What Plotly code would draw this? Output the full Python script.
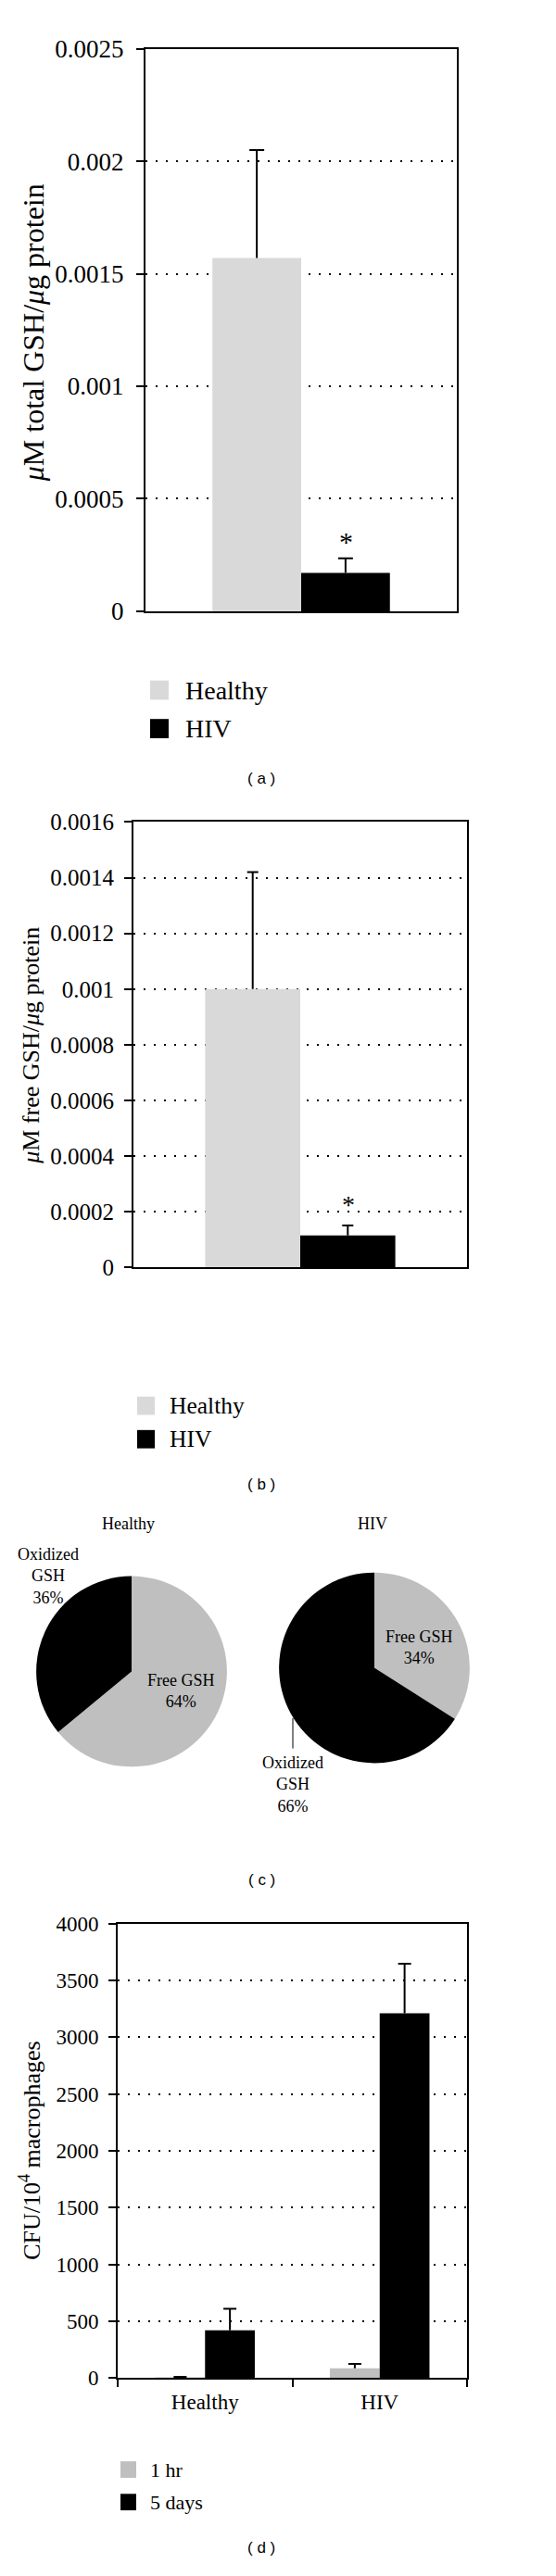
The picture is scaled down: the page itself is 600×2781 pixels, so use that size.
import plotly.graph_objects as go

W, H = 600, 2781

# ---------------- data ----------------
groups = ["Healthy", "HIV"]
group_colors = ["#d9d9d9", "#000000"]

# (a) total GSH
total_gsh = [0.00157, 0.000171]
total_gsh_err = [0.00048, 0.000064]
a_tickvals = [0, 0.0005, 0.001, 0.0015, 0.002, 0.0025]
a_ticktext = ["0", "0.0005", "0.001", "0.0015", "0.002", "0.0025"]

# (b) free GSH
free_gsh = [0.00100, 0.000115]
free_gsh_err = [0.00042, 0.000036]
b_tickvals = [0, 0.0002, 0.0004, 0.0006, 0.0008, 0.001, 0.0012, 0.0014, 0.0016]
b_ticktext = ["0", "0.0002", "0.0004", "0.0006", "0.0008", "0.001", "0.0012", "0.0014", "0.0016"]

# (c) GSH composition (%)
pie_labels = ["Free GSH", "Oxidized GSH"]
pie_label_lines = ["Free GSH", "Oxidized<br>GSH"]
pie_colors = ["#bfbfbf", "#000000"]
healthy_pct = [64, 36]
hiv_pct = [34, 66]

# (d) CFU per 10^4 macrophages
time_points = ["1 hr", "5 days"]
time_colors = ["#bfbfbf", "#000000"]
cfu_1hr = [3, 85]
cfu_1hr_err = [6, 38]
cfu_5d = [420, 3210]
cfu_5d_err = [188, 435]
d_tickvals = [0, 500, 1000, 1500, 2000, 2500, 3000, 3500, 4000]

SERIF = "Liberation Serif, Times New Roman, serif"
SANS = "Liberation Sans, Arial, sans-serif"


def px(x):
    return x / W


def py(y):
    return 1 - y / H


fig = go.Figure()


def bar_with_whisker(x, y, err, name, color, xa, ya, cap):
    """Bar with an upward-only error whisker (stem + top cap, no cap at the bar top)."""
    fig.add_trace(go.Bar(
        x=x, y=y, name=name, offsetgroup=name,
        marker=dict(color=color, line=dict(width=0)),
        error_y=dict(type="data", array=err, arrayminus=[0] * len(err), symmetric=False,
                     color="black", thickness=2, width=0),
        xaxis=xa, yaxis=ya, showlegend=False))
    tops = [v + e for v, e in zip(y, err)]
    fig.add_trace(go.Bar(
        x=x, y=tops, name=name + " error", offsetgroup=name,
        marker=dict(color="rgba(0,0,0,0)", line=dict(width=0)),
        error_y=dict(type="data", array=[0] * len(err), arrayminus=[0] * len(err),
                     symmetric=False, color="black", thickness=2, width=cap),
        xaxis=xa, yaxis=ya, showlegend=False, hoverinfo="skip"))


# ---------- panel (a) ----------
for g, v, e, c in zip(groups, total_gsh, total_gsh_err, group_colors):
    bar_with_whisker(["GSH"], [v], [e], g, c, "x", "y", 8)

# ---------- panel (b) ----------
for g, v, e, c in zip(groups, free_gsh, free_gsh_err, group_colors):
    bar_with_whisker(["GSH"], [v], [e], g, c, "x2", "y2", 6)

# ---------- panel (c) ----------
pie_r = 104
pie_specs = [("Healthy", healthy_pct, 142, 1809), ("HIV", hiv_pct, 404, 1805)]
for name, vals, cx, cy in pie_specs:
    fig.add_trace(go.Pie(
        labels=pie_labels, values=vals, name=name, sort=False,
        direction="clockwise", rotation=0,
        marker=dict(colors=pie_colors, line=dict(width=0)),
        textinfo="none", showlegend=False,
        domain=dict(x=[px(cx - pie_r), px(cx + pie_r)],
                    y=[py(cy + pie_r), py(cy - pie_r)])))

# ---------- panel (d) ----------
for t, vals, errs, c in zip(time_points, [cfu_1hr, cfu_5d], [cfu_1hr_err, cfu_5d_err], time_colors):
    bar_with_whisker(groups, vals, errs, t, c, "x3", "y3", 7)

grid = dict(showgrid=True, gridcolor="black", gridwidth=1.5, griddash="1.5px,9.5px")
axline = dict(showline=True, linecolor="black", linewidth=2, mirror=True)

fig.update_layout(
    width=W, height=H, margin=dict(l=0, r=0, t=0, b=0),
    paper_bgcolor="white", plot_bgcolor="white",
    barmode="group", bargap=0.43, bargroupgap=0,
    font=dict(family=SERIF, color="black"),
    # (a)
    xaxis=dict(domain=[px(157), px(493)], anchor="y", showticklabels=False, ticks="",
               showgrid=False, zeroline=False, fixedrange=True, **axline),
    yaxis=dict(domain=[py(652), py(38)], anchor="x", range=[0, 0.0025],
               tickmode="array", tickvals=a_tickvals, ticktext=a_ticktext,
               ticks="outside", ticklen=8, tickwidth=2, tickcolor="black",
               ticklabelstandoff=8, tickfont=dict(family=SERIF, size=27),
               zeroline=False, fixedrange=True, **grid, **axline),
    # (b)
    xaxis2=dict(domain=[px(144), px(504)], anchor="y2", showticklabels=False, ticks="",
                showgrid=False, zeroline=False, fixedrange=True, **axline),
    yaxis2=dict(domain=[py(1368), py(882)], anchor="x2", range=[0, 0.0016],
                tickmode="array", tickvals=b_tickvals, ticktext=b_ticktext,
                ticks="outside", ticklen=8, tickwidth=2, tickcolor="black",
                ticklabelstandoff=6, tickfont=dict(family=SERIF, size=25),
                zeroline=False, fixedrange=True, **grid, **axline),
    # (d)
    xaxis3=dict(domain=[px(127), px(504)], anchor="y3", tickson="boundaries",
                ticks="outside", ticklen=8, tickwidth=2, tickcolor="black",
                ticklabelstandoff=4, tickfont=dict(family=SERIF, size=23),
                showgrid=False, zeroline=False, fixedrange=True, **axline),
    yaxis3=dict(domain=[py(2580), py(2084)], anchor="x3", range=[0, 4000],
                tickmode="array", tickvals=d_tickvals,
                ticks="outside", ticklen=8, tickwidth=2, tickcolor="black",
                ticklabelstandoff=6, tickfont=dict(family=SERIF, size=23),
                zeroline=False, fixedrange=True, **grid, **axline),
)

ann = []
shapes = []


def text(x, y, s, size, family=SERIF, angle=0, xanchor="center", yanchor="middle"):
    ann.append(dict(x=px(x), y=py(y), xref="paper", yref="paper", text=s, showarrow=False,
                    textangle=angle, xanchor=xanchor, yanchor=yanchor,
                    font=dict(family=family, size=size, color="black")))


# axis titles
text(36, 348, "<i>μ</i>M total GSH/<i>μ</i>g protein", 32, angle=-90)
text(34, 1126, "<i>μ</i>M free GSH/<i>μ</i>g protein", 26, angle=-90)
text(33, 2332, "CFU/10<sup>4</sup> macrophages", 26, angle=-90)

# significance stars (anchored to the HIV bar tops + error)
ann.append(dict(x="GSH", y=total_gsh[1] + total_gsh_err[1], xref="x", yref="y",
                xshift=48, yshift=0, text="*", showarrow=False, yanchor="bottom",
                font=dict(family=SERIF, size=30, color="black")))
ann.append(dict(x="GSH", y=free_gsh[1] + free_gsh_err[1], xref="x2", yref="y2",
                xshift=52, yshift=5, text="*", showarrow=False, yanchor="bottom",
                font=dict(family=SERIF, size=28, color="black")))


# legends (manual swatches)
def legend(x0, size_w, rows, names, colors, fs, tx):
    for (yc, h), n, c in zip(rows, names, colors):
        shapes.append(dict(type="rect", xref="paper", yref="paper",
                           x0=px(x0), x1=px(x0 + size_w), y0=py(yc + h / 2), y1=py(yc - h / 2),
                           fillcolor=c, line=dict(width=0)))
        text(tx, yc, n, fs, xanchor="left")


legend(162, 20, [(738, 21), (780, 21)], groups, group_colors, 28, 198)
legend(148, 19, [(1519, 20), (1555.5, 20)], groups, group_colors, 25.5, 181)
legend(130, 17, [(2680, 18), (2715.5, 18)], time_points, time_colors, 22, 160)

# pie titles and labels
text(138, 1648, "Healthy", 18)
text(402, 1648, "HIV", 18)
text(195, 1830, f"{pie_label_lines[0]}<br>{healthy_pct[0]}%", 18)
text(52, 1705, f"{pie_label_lines[1]}<br>{healthy_pct[1]}%", 18)
text(452, 1783, f"{pie_label_lines[0]}<br>{hiv_pct[0]}%", 18)
text(316, 1932, f"{pie_label_lines[1]}<br>{hiv_pct[1]}%", 18)
shapes.append(dict(type="line", xref="paper", yref="paper", x0=px(316), x1=px(316),
                   y0=py(1860), y1=py(1893), line=dict(color="black", width=1)))

# panel letters
for lab, y in [("a", 835), ("b", 1605), ("c", 2036), ("d", 2765)]:
    text(282, y, f"( {lab} )", 17, family=SANS)

fig.update_layout(annotations=ann, shapes=shapes)
fig.write_html("out.html", config={"displayModeBar": False},
               post_script="document.body.style.margin='0';")
